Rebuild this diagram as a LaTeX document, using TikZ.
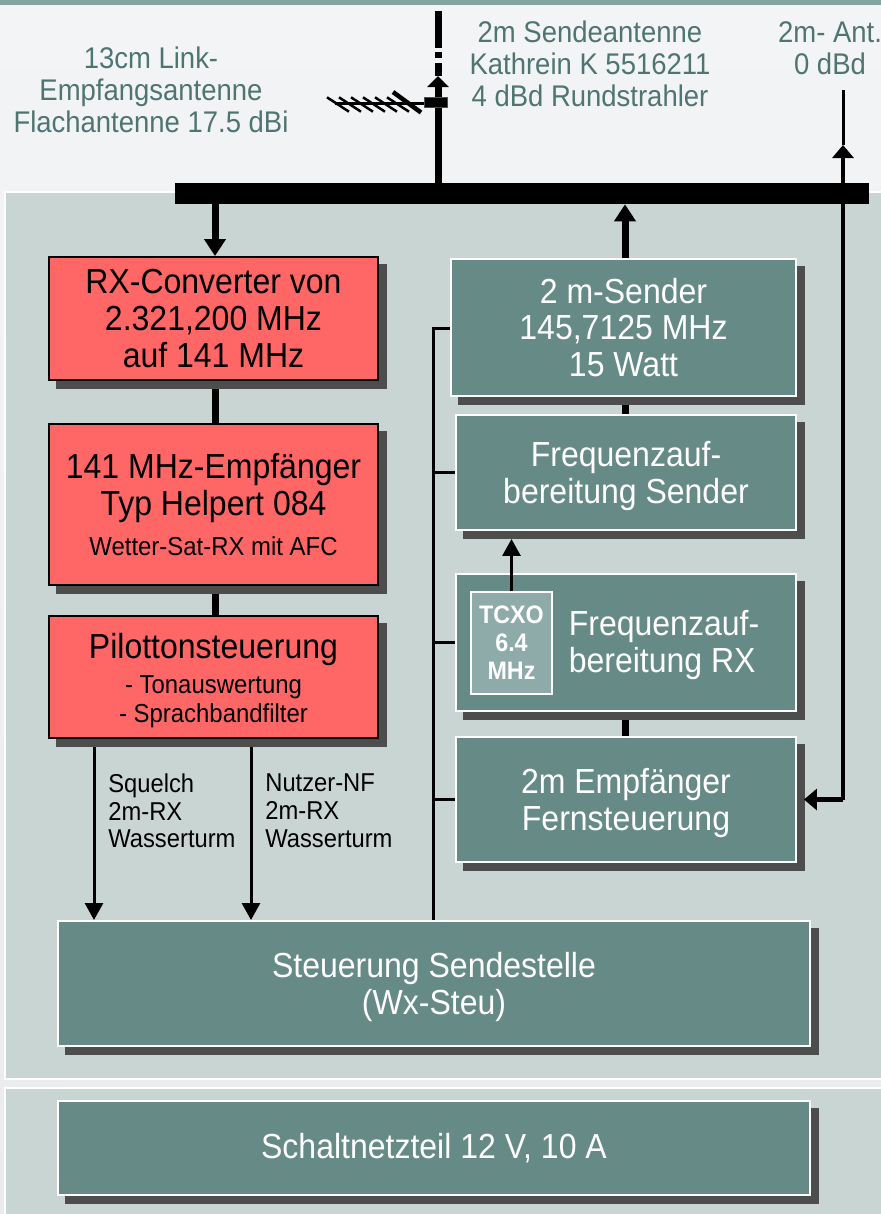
\documentclass[tikz,border=0pt]{standalone}
\usepackage{fontspec}
\usepackage{xcolor}
\usepackage{tikz}
\usetikzlibrary{arrows.meta,shadows}
\setmainfont[FakeStretch=0.92]{Liberation Sans}
\definecolor{stripcol}{HTML}{82A5A0}
\definecolor{skytop}{HTML}{F3F4F6}
\definecolor{skybot}{HTML}{E9EBEC}
\definecolor{panelcol}{HTML}{C9D5D2}
\definecolor{tealcol}{HTML}{668B87}
\definecolor{tcxocol}{HTML}{8FABA9}
\definecolor{redcol}{HTML}{FF6666}
\definecolor{shadecol}{HTML}{4D4D4D}
\definecolor{skytext}{HTML}{4F7570}
\newcommand{\smalltxt}{\fontsize{14.8}{15.9}\selectfont}
\newcommand{\dropline}{\rule{0pt}{18pt}}

\begin{document}
\begin{tikzpicture}[
  x=0.02cm,y=-0.02cm,
  bigtext/.style={font=\fontsize{19.8}{21}\selectfont},
  skylabel/.style={
    align=center,
    text=skytext,
    inner sep=0pt,
    font=\fontsize{17}{18.2}\selectfont
  },
  smalllabel/.style={
    align=left,
    anchor=north west,
    inner sep=0pt,
    text=black,
    font=\fontsize{14.7}{15.9}\selectfont
  },
  panel/.style={
    rectangle,
    draw=white,
    line width=0.05cm,
    fill=panelcol,
    inner sep=0pt
  },
  redbox/.style={
    rectangle,
    draw=black,
    line width=0.04cm,
    fill=redcol,
    align=center,
    inner sep=0pt,
    bigtext,
    drop shadow={shadow xshift=0.16cm,shadow yshift=-0.16cm,fill=shadecol,draw=shadecol,opacity=1}
  },
  tealbox/.style={
    rectangle,
    draw=white,
    line width=0.04cm,
    fill=tealcol,
    text=white,
    align=center,
    inner sep=0pt,
    bigtext,
    drop shadow={shadow xshift=0.16cm,shadow yshift=-0.16cm,fill=shadecol,draw=shadecol,opacity=1}
  },
  heavy/.style={line width=0.14cm,draw=black},
  link/.style={heavy,shorten <=0.16cm},
  heavyarrow/.style={heavy,-{Triangle[length=0.34cm,width=0.42cm]}},
  signal/.style={line width=0.06cm,draw=black},
  signalarrow/.style={signal,-{Triangle[length=0.34cm,width=0.36cm]}},
  feedarrow/.style={line width=0.09cm,draw=black,-{Triangle[length=0.26cm,width=0.42cm]}}
]
  \useasboundingbox (0,0) rectangle (881,1214);
  \shade[top color=skytop,bottom color=skybot] (0,0) rectangle (881,1214);
  \fill[stripcol] (0,0) rectangle (881,5);

  \node[panel,minimum width=17.6cm,minimum height=17.74cm] (mainpanel) at (445,635.5) {};
  \node[panel,minimum width=17.6cm,minimum height=2.8cm] (powerpanel) at (445,1158) {};

  \node[fill=black,inner sep=0pt,minimum width=13.88cm,minimum height=0.42cm] (bus) at (522,193.5) {};

  \node[skylabel] (linkant) at (151,90) {13cm Link-\\Empfangsantenne\\Flachantenne 17.5 dBi};
  \node[skylabel] (sendant) at (590,64) {2m Sendeantenne\\Kathrein K 5516211\\4 dBd Rundstrahler};
  \node[skylabel] (smallant) at (830,48) {2m- Ant.\\0 dBd};

  \node[redbox,minimum width=6.58cm,minimum height=2.46cm] (rxconv) at (213.5,318.5)
    {RX-Converter von\\2.321,200 MHz\\auf 141 MHz};
  \node[redbox,minimum width=6.58cm,minimum height=3.22cm] (rxtype) at (213.5,504.5)
    {141 MHz-Empfänger\\Typ Helpert 084\\[0.06cm]{\smalltxt Wetter-Sat-RX mit AFC}};
  \node[redbox,minimum width=6.58cm,minimum height=2.44cm] (pilot) at (213.5,677)
    {\dropline Pilottonsteuerung\\[-0.03cm]{\smalltxt - Tonauswertung}\\[-0.17cm]{\smalltxt - Sprachbandfilter}};

  \node[tealbox,minimum width=6.9cm,minimum height=2.74cm] (sender) at (623.5,327.5)
    {2 m-Sender\\145,7125 MHz\\15 Watt};
  \node[tealbox,minimum width=6.8cm,minimum height=2.3cm] (freqtx) at (626,472.5)
    {\dropline Frequenzauf-\\bereitung Sender};
  \node[tealbox,minimum width=6.8cm,minimum height=2.74cm] (freqrx) at (626,642.5) {};
  \node[text=white,align=left,inner sep=0pt,bigtext] (freqrxtext) at (664,645)
    {Frequenzauf-\\bereitung RX};
  \node[rectangle,draw=white,line width=0.03cm,fill=tcxocol,text=white,align=center,inner sep=0pt,
    minimum width=1.62cm,minimum height=2.04cm,
    font=\bfseries\fontsize{14.4}{15.9}\selectfont] (tcxo) at (511.5,643) {TCXO\\6.4\\MHz};
  \node[tealbox,minimum width=6.8cm,minimum height=2.5cm] (fernst) at (626,799.5)
    {\dropline 2m Empfänger\\Fernsteuerung};
  \node[tealbox,minimum width=15.04cm,minimum height=2.5cm] (steuer) at (434,983.5)
    {\dropline Steuerung Sendestelle\\(Wx-Steu)};
  \node[tealbox,minimum width=15.04cm,minimum height=1.88cm] (netzteil) at (434,1148)
    {Schaltnetzteil 12 V, 10 A};

  \node[smalllabel] (squelch) at (108,773) {Squelch\\2m-RX\\Wasserturm};
  \node[smalllabel] (nutzer) at (265,773) {Nutzer-NF\\2m-RX\\Wasserturm};

  \coordinate (rxline) at (215,0);
  \coordinate (txline) at (625,0);
  \coordinate (squelchline) at (94,0);
  \coordinate (nutzerline) at (251,0);
  \coordinate (ctrltop) at (433,328);
  \coordinate (masttop) at (438,11);
  \coordinate (masthead) at (438,76);
  \coordinate (anttop) at (843,90);
  \coordinate (anthead) at (843,145);
  \coordinate (antjoint) at (843,799.5);

  \draw[heavyarrow] (bus.south -| rxline) -- (rxconv.north -| rxline);
  \draw[link] (rxconv.south -| rxline) -- (rxtype.north -| rxline);
  \draw[link] (rxtype.south -| rxline) -- (pilot.north -| rxline);
  \draw[signalarrow,shorten <=0.16cm] (pilot.south -| squelchline) -- (steuer.north -| squelchline);
  \draw[signalarrow,shorten <=0.16cm] (pilot.south -| nutzerline) -- (steuer.north -| nutzerline);

  \draw[heavyarrow] (sender.north -| txline) -- (bus.south -| txline);
  \draw[link] (sender.south -| txline) -- (freqtx.north -| txline);
  \draw[link] (freqrx.south -| txline) -- (fernst.north -| txline);
  \draw[signalarrow,shorten >=0.16cm] (tcxo.north) -- (freqtx.south -| tcxo.north);

  \draw[signal] (steuer.north -| ctrltop) -- (ctrltop) -- (sender.west |- ctrltop);
  \draw[signal] (ctrltop |- freqtx.west) -- (freqtx.west);
  \draw[signal] (ctrltop |- freqrx.west) -- (freqrx.west);
  \draw[signal] (ctrltop |- fernst.west) -- (fernst.west);

  \draw[signal] (anttop) -- (anthead);
  \draw[feedarrow] (antjoint) -- (anthead);
  \draw[feedarrow,shorten >=0.14cm] (antjoint) -- (fernst.east);

  \draw[heavy,dash pattern=on 0.74cm off 0.08cm on 0.12cm off 0.1cm on 1cm] (masttop) -- (masthead);
  \draw[heavy,-{Triangle[length=0.22cm,width=0.42cm]}] (bus.north -| masthead) -- (masthead);

  \node[fill=black,draw=shadecol,line width=0.01cm,inner sep=0pt,minimum width=0.46cm,minimum height=0.2cm] (clamp) at (436,102) {};
  \coordinate (boomend) at (335,103);
  \draw[line width=0.06cm] (boomend) -- (clamp.west |- boomend);
  \foreach \i in {0,...,5}
    \draw[line width=0.05cm] (327+12*\i,97.3) -- ++(22,14.4);
  \draw[line width=0.09cm] (393,92) -- (421,112.5);
\end{tikzpicture}
\end{document}
